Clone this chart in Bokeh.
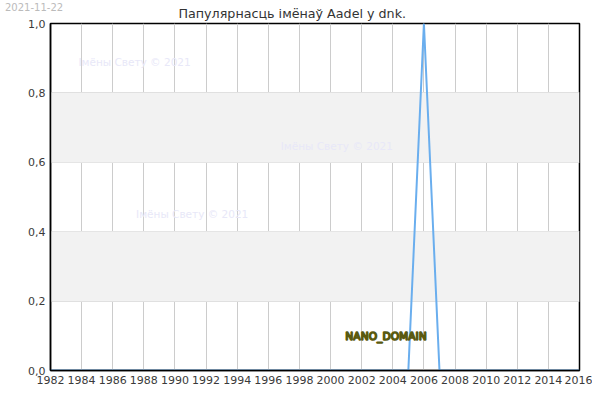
from bokeh.plotting import figure
from bokeh.layouts import column
from bokeh.models import Range1d, Label, BoxAnnotation, CustomJSTickFormatter, FixedTicker, Div
from bokeh.embed import file_html
from bokeh.resources import INLINE

years = list(range(1982, 2017))
values = [0.0] * len(years)
values[years.index(2006)] = 1.0

title_text = "Папулярнасць імёнаў Aadel у dnk."
date_text = "2021-11-22"
watermark_text = "Імёны Свету © 2021"
domain_text = "NANO_DOMAIN"
x_ticks = list(range(1982, 2017, 2))
y_ticks = [0.0, 0.2, 0.4, 0.6, 0.8, 1.0]
bands = [(0.2, 0.4), (0.6, 0.8)]

FONT = "DejaVu Sans"

p = figure(width=592, height=392, output_backend="svg", toolbar_location=None,
           x_range=Range1d(1982, 2016), y_range=Range1d(0, 1),
           min_border_left=50, min_border_right=13, min_border_top=0, min_border_bottom=22)

p.title.text = title_text
p.title.align = "left"
p.title.text_font = FONT
p.title.text_font_size = "12.7px"
p.title.text_font_style = "normal"
p.title.text_color = "#333333"
p.title.standoff = 6
p.title.offset = 128

p.outline_line_color = "black"
p.outline_line_width = 1.5
p.background_fill_color = "white"

for b, t in bands:
    p.add_layout(BoxAnnotation(bottom=b, top=t, fill_color="#f2f2f2", fill_alpha=1, line_color=None, level="underlay"))

p.xaxis.ticker = FixedTicker(ticks=x_ticks)
p.yaxis.ticker = FixedTicker(ticks=y_ticks)
p.yaxis.formatter = CustomJSTickFormatter(code="return tick.toFixed(1).replace('.', ',');")
for ax in (p.xaxis, p.yaxis):
    ax.major_tick_out = 0
    ax.major_tick_in = 0
    ax.minor_tick_out = 0
    ax.minor_tick_in = 0
    ax.axis_line_color = "black"
    ax.axis_line_width = 1.5
    ax.major_label_text_font = FONT
    ax.major_label_text_font_size = "11px"
    ax.major_label_text_color = "#3a3a3a"
    ax.major_label_standoff = 5

p.xgrid.grid_line_color = "#cccccc"
p.xgrid.grid_line_width = 1
p.ygrid.grid_line_color = "#e0e0e0"
p.ygrid.grid_line_width = 1

wm = [(1983.8, 0.888), (1996.8, 0.648), (1987.5, 0.45)]
for x, y in wm:
    p.add_layout(Label(x=x, y=y, text=watermark_text, text_font=FONT, text_font_size="10.5px",
                       text_color="#e8e8f8", text_baseline="middle", text_align="left"))

p.add_layout(Label(x=2000.95, y=0.098, text=domain_text, text_font=FONT, text_font_size="10.7px",
                   text_color="#f6f670", text_outline_color="#5a5a10",
                   text_baseline="middle", text_align="left"))

p.line(years, values, line_color="#6aaeee", line_width=2)

date_div = Div(text=date_text, width=80, height=12,
               styles={"position": "absolute", "top": "-2px", "left": "0px",
                       "font-family": FONT, "font-size": "10px", "color": "#bbbbbb",
                       "line-height": "10px", "z-index": "10"})

layout = column(p, date_div)

open("out.html", "w").write(file_html(layout, INLINE))
